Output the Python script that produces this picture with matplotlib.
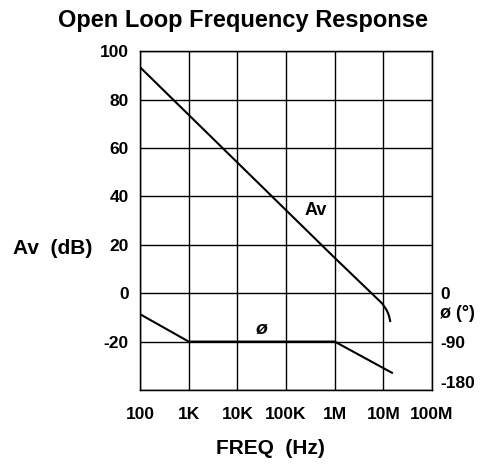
import matplotlib
matplotlib.use("Agg")
import matplotlib.pyplot as plt
import matplotlib.transforms as mtransforms
from matplotlib.ticker import FixedLocator, FixedFormatter, NullLocator

plt.rcParams["font.family"] = ["Liberation Sans", "DejaVu Sans"]
plt.rcParams["font.weight"] = "bold"
plt.rcParams["axes.unicode_minus"] = False

# gain curve (dB)
gain_freq = [100, 1e3, 1e4, 1e5, 1e6, 9.5e6, 1.05e7, 1.15e7, 1.25e7, 1.32e7, 1.38e7]
gain_db = [93.4, 73.7, 54.0, 34.3, 14.6, -4.3, -5.6, -6.8, -8.3, -9.8, -11.5]

# phase curve (degrees, right axis)
phase_freq = [100, 1e3, 1e6, 1.5e7]
phase_deg = [-39, -90, -90, -148]

x_ticks = [1e2, 1e3, 1e4, 1e5, 1e6, 1e7, 1e8]
x_labels = ["100", "1K", "10K", "100K", "1M", "10M", "100M"]
y_ticks = [-40, -20, 0, 20, 40, 60, 80, 100]
y_labels = ["", "-20", "0", "20", "40", "60", "80", "100"]
phase_ticks = [0, -90, -180]

fig = plt.figure(figsize=(4.86, 4.68), dpi=100)
ax = fig.add_axes([0.288, 0.1667, 0.601, 0.724])
ax2 = ax.twinx()

ax.plot(gain_freq, gain_db, color="black", lw=1.5)
ax2.plot(phase_freq, phase_deg, color="black", lw=1.5)

ax.set_xscale("log")
ax.set_xlim(1e2, 1e8)
ax.set_ylim(-40, 100)
ax2.set_ylim(-180, 450)

ax.xaxis.set_major_locator(FixedLocator(x_ticks))
ax.xaxis.set_major_formatter(FixedFormatter(x_labels))
ax.xaxis.set_minor_locator(NullLocator())
ax.set_yticks(y_ticks)
ax.set_yticklabels(y_labels)
ax2.set_yticks(phase_ticks)

ax.tick_params(axis="x", length=0, labelsize=12.5, pad=12)
ax.tick_params(axis="y", length=0, labelsize=12.5, pad=8)
ax2.tick_params(length=0, labelsize=12.5, pad=6)
ax.grid(True, color="black", lw=1.0)
for s in ax.spines.values():
    s.set_linewidth(1.0)

# the -180 label sits a little above the bottom edge
fig.canvas.draw()
lab = ax2.get_yticklabels()[2]
lab.set_transform(lab.get_transform() + mtransforms.ScaledTranslation(0, 8 / 100, fig.dpi_scale_trans))

ax.text(4e5, 34, "Av", fontsize=13, ha="center", va="center")
ax.text(3.2e4, -15, "ø", fontsize=14, style="italic", ha="center", va="center")

fig.text(0.5, 0.957, "Open Loop Frequency Response", fontsize=17, ha="center", va="center")
fig.text(0.027, 0.468, "Av  (dB)", fontsize=15, ha="left", va="center")
fig.text(0.905, 0.331, "ø (°)", fontsize=13, ha="left", va="center")
fig.text(0.557, 0.041, "FREQ  (Hz)", fontsize=15, ha="center", va="center")

fig.savefig("out.png", dpi=100)
